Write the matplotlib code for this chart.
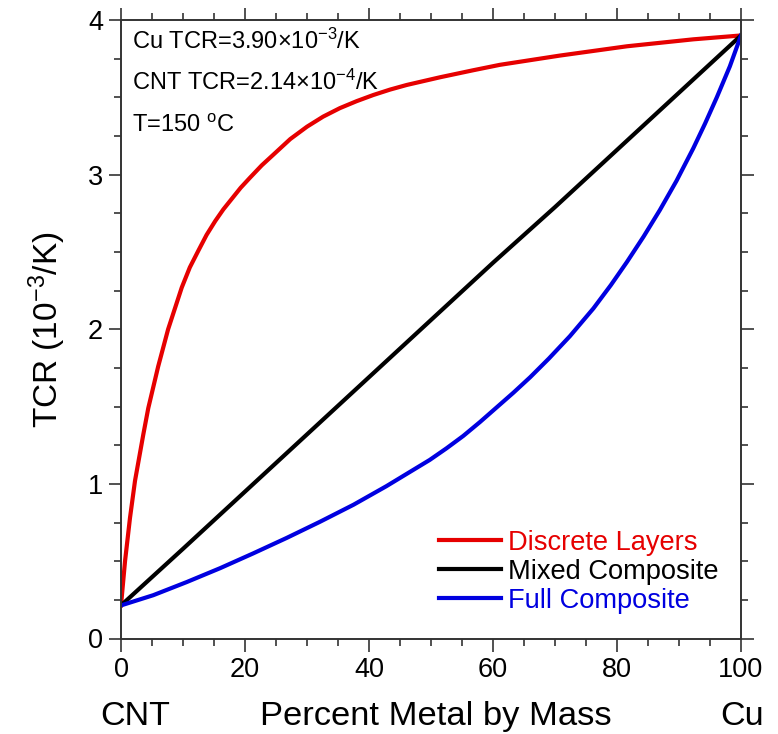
import matplotlib
matplotlib.use("Agg")
import matplotlib.pyplot as plt
from matplotlib.ticker import MultipleLocator

plt.rcParams['font.family'] = ['Liberation Sans', 'DejaVu Sans']
plt.rcParams['mathtext.fontset'] = 'custom'
plt.rcParams['mathtext.rm'] = 'Liberation Sans'
plt.rcParams['mathtext.it'] = 'Liberation Sans:italic'
plt.rcParams['mathtext.bf'] = 'Liberation Sans:bold'

# Data (x = percent metal by mass, y = TCR in 1e-3/K)
discrete_x = [0, 0.65, 1.45, 2.26, 3.6, 4.4, 6.0, 7.6, 9.8, 11.1, 12.5, 13.8, 15.2, 16.5,
              17.9, 19.3, 20.8, 22.7, 24.6, 27.3, 30.0, 32.6, 35.3, 38.0, 40.7, 43.4, 46.1,
              51.5, 56.8, 61.1, 70.8, 81.6, 92.3, 100]
discrete_y = [0.214, 0.50, 0.78, 1.02, 1.32, 1.49, 1.76, 2.00, 2.27, 2.40, 2.51, 2.61, 2.70,
              2.775, 2.845, 2.915, 2.98, 3.06, 3.13, 3.23, 3.31, 3.375, 3.43, 3.475, 3.515,
              3.55, 3.58, 3.63, 3.675, 3.71, 3.77, 3.83, 3.875, 3.90]

mixed_x = [0, 10, 20, 30, 40, 50, 60, 70, 80, 90, 100]
mixed_y = [0.214, 0.58, 0.95, 1.32, 1.69, 2.06, 2.43, 2.79, 3.16, 3.53, 3.90]

full_x = [0, 5.2, 10.6, 16.0, 21.3, 26.7, 32.1, 37.5, 42.8, 46.3, 49.8, 52.5, 55.2, 57.9,
          60.6, 63.3, 66.0, 69.0, 72.4, 74.3, 76.2, 79.0, 81.6, 84.3, 86.9, 89.6, 92.3, 94.2,
          96.1, 98.2, 100]
full_y = [0.214, 0.28, 0.365, 0.455, 0.55, 0.65, 0.755, 0.865, 0.985, 1.07, 1.155, 1.23,
          1.31, 1.40, 1.495, 1.59, 1.69, 1.81, 1.955, 2.045, 2.135, 2.285, 2.435, 2.60, 2.77,
          2.96, 3.17, 3.33, 3.50, 3.70, 3.90]

red = '#e60000'
blue = '#0000e0'

fig = plt.figure(figsize=(7.78, 7.34), dpi=100)
ax = fig.add_axes([121 / 778, 95.5 / 734, 620 / 778, 618.5 / 734])

ax.plot(discrete_x, discrete_y, color=red, lw=3, label='Discrete Layers')
ax.plot(mixed_x, mixed_y, color='black', lw=3, label='Mixed Composite')
ax.plot(full_x, full_y, color=blue, lw=3, label='Full Composite')

ax.set_xlim(0, 100)
ax.set_ylim(0, 4)
ax.xaxis.set_major_locator(MultipleLocator(20))
ax.xaxis.set_minor_locator(MultipleLocator(5))
ax.yaxis.set_major_locator(MultipleLocator(1))
ax.yaxis.set_minor_locator(MultipleLocator(0.25))
ax.tick_params(which='both', direction='out', top=True, right=True, width=1.2, color='#333333')
ax.tick_params(which='major', length=9, labelsize=19.5, pad=4)
ax.tick_params(which='minor', length=5)
ax.tick_params(axis='x', labeltop=False)
ax.tick_params(axis='y', labelright=False)
for s in ax.spines.values():
    s.set_linewidth(1.4)
    s.set_color('#333333')

ax.set_ylabel('TCR (10$^{-3}$/K)', fontsize=24, labelpad=14)

# x-axis labels row
ax.text(-0.034, -0.126, 'CNT', transform=ax.transAxes, fontsize=24.5, ha='left', va='center')
ax.text(0.507, -0.126, 'Percent Metal by Mass', transform=ax.transAxes, fontsize=24.8,
        ha='center', va='center')
ax.text(1.002, -0.126, 'Cu', transform=ax.transAxes, fontsize=24.5, ha='center', va='center')

# annotations
ax.text(0.0177, 0.965, 'Cu TCR=3.90\u00d710$^{-3}$/K', transform=ax.transAxes, fontsize=17,
        va='center')
ax.text(0.0177, 0.900, 'CNT TCR=2.14\u00d710$^{-4}$/K', transform=ax.transAxes, fontsize=17,
        va='center')
ax.text(0.0177, 0.828, 'T=150 $^{\\mathrm{o}}$C', transform=ax.transAxes, fontsize=17,
        va='center')

ax.legend(loc='center left', bbox_to_anchor=(0.513, 0.1075), frameon=False, fontsize=19.6,
          labelcolor='linecolor', handlelength=2.28, handletextpad=0.26, labelspacing=0.11,
          borderaxespad=0, borderpad=0)

fig.savefig('out.png', dpi=100)
